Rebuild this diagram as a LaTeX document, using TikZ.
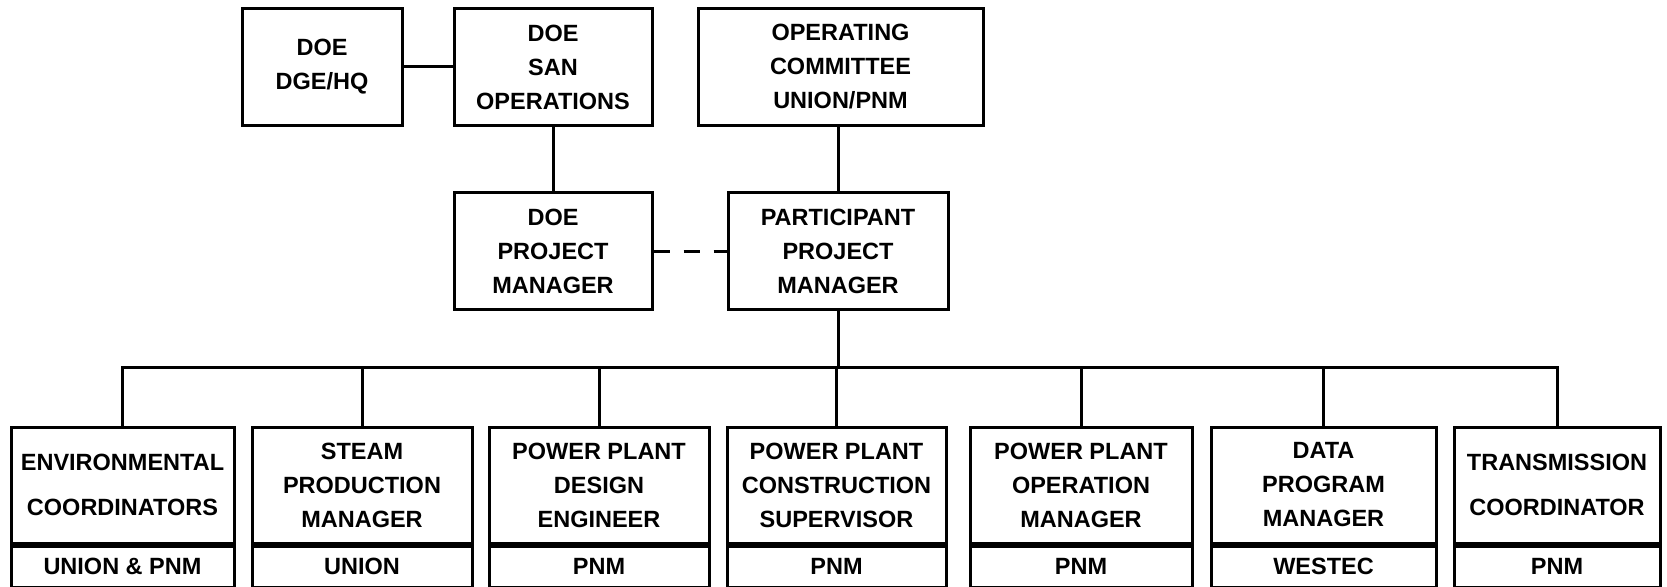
\documentclass[tikz,border=0pt]{standalone}
\usepackage{fontspec}
\setmainfont{Liberation Sans}
\begin{document}
\begin{tikzpicture}[x=1pt,y=-1pt,
  box/.style={draw,line width=3pt,align=center,inner sep=0pt,
    font=\bfseries\fontsize{23.5}{34}\selectfont,minimum height=117pt},
  upper/.style={box,minimum height=116pt},
  lower/.style={box,minimum height=41pt},
  conn/.style={line width=3pt}]
\useasboundingbox[fill=white] (0,0) rectangle (1667,586);

% top row
\node[box,minimum width=160pt] (dge) at (322,67) {DOE\\DGE/HQ};
\node[box,minimum width=198pt] (san) at (553,67) {DOE\\SAN\\OPERATIONS};
\node[box,minimum width=285pt] (opc) at (840.5,67) {OPERATING\\COMMITTEE\\UNION/PNM};

% middle row
\node[box,minimum width=198pt] (doepm) at (553,251) {DOE\\PROJECT\\MANAGER};
\node[box,minimum width=220pt] (ppm) at (838,251) {PARTICIPANT\\PROJECT\\MANAGER};

% bottom row
\node[upper,minimum width=223pt] (env) at (122.5,485) {ENVIRONMENTAL\\[11pt]COORDINATORS};
\node[lower,minimum width=223pt,anchor=north] (envL) at (env.south) {UNION \& PNM};
\node[upper,minimum width=220pt] (steam) at (362,485) {STEAM\\PRODUCTION\\MANAGER};
\node[lower,minimum width=220pt,anchor=north] (steamL) at (steam.south) {UNION};
\node[upper,minimum width=220pt] (design) at (599,485) {POWER PLANT\\DESIGN\\ENGINEER};
\node[lower,minimum width=220pt,anchor=north] (designL) at (design.south) {PNM};
\node[upper,minimum width=219pt] (constr) at (836.5,485) {POWER PLANT\\CONSTRUCTION\\SUPERVISOR};
\node[lower,minimum width=219pt,anchor=north] (constrL) at (constr.south) {PNM};
\node[upper,minimum width=222pt] (oper) at (1081,485) {POWER PLANT\\OPERATION\\MANAGER};
\node[lower,minimum width=222pt,anchor=north] (operL) at (oper.south) {PNM};
\node[upper,minimum width=225pt] (data) at (1323.5,485) {DATA\\PROGRAM\\MANAGER};
\node[lower,minimum width=225pt,anchor=north] (dataL) at (data.south) {WESTEC};
\node[upper,minimum width=206pt] (trans) at (1557,485) {TRANSMISSION\\[11pt]COORDINATOR};
\node[lower,minimum width=206pt,anchor=north] (transL) at (trans.south) {PNM};

% connectors
\coordinate (bus) at (0,367);
\draw[conn] (dge) -- (san);
\draw[conn] (san) -- (doepm);
\draw[conn] (opc.south -| ppm.north) -- (ppm.north);
\draw[conn,dash pattern=on 16pt off 14pt] (doepm) -- (ppm);
\draw[conn] (ppm.south) -- (ppm.south |- bus);
\draw[conn] (env.north) -- (env.north |- bus) -- (trans.north |- bus) -- (trans.north);
\foreach \n in {steam,design,constr,oper,data}
  \draw[conn] (\n.north) -- (\n.north |- bus);
\end{tikzpicture}
\end{document}
